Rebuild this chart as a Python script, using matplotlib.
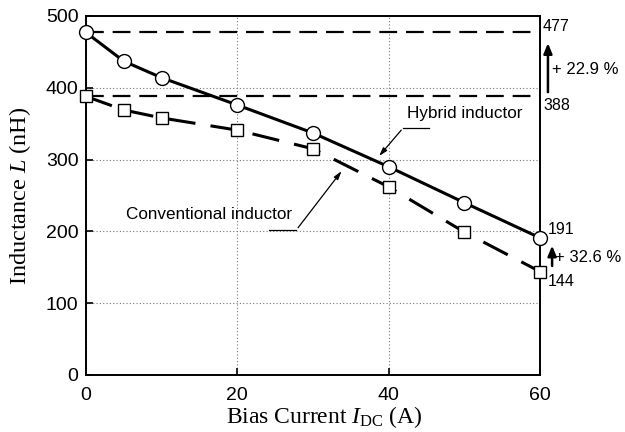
import matplotlib
matplotlib.use("Agg")
from matplotlib import pyplot as plt

plt.rcParams["font.family"] = ["Liberation Sans", "DejaVu Sans"]
plt.rcParams["mathtext.fontset"] = "custom"
plt.rcParams["mathtext.rm"] = "Liberation Serif"
plt.rcParams["mathtext.it"] = "Liberation Serif:italic"

current = [0, 5, 10, 20, 30, 40, 50, 60]
hybrid = [477, 437, 414, 376, 337, 290, 240, 191]
conventional = [388, 369, 358, 341, 315, 262, 199, 144]

x_ticks = [0, 20, 40, 60]
y_ticks = [0, 100, 200, 300, 400, 500]

fig = plt.figure(figsize=(6.25, 4.32), dpi=100)
ax = fig.add_axes([0.1376, 0.132, 0.7264, 0.831])

# reference levels at 0 A
ax.axhline(hybrid[0], color="black", lw=1.6, dashes=(8, 4), zorder=2)
ax.axhline(conventional[0], color="black", lw=1.6, dashes=(8, 4), zorder=2)

ax.plot(current, hybrid, "-", color="black", lw=2.2, marker="o", ms=10,
        mfc="white", mec="black", mew=1.0, zorder=4, clip_on=False)
ax.plot(current, conventional, color="black", lw=2.2, dashes=(9, 5), marker="s",
        ms=9, mfc="white", mec="black", mew=1.0, zorder=3, clip_on=False)

ax.set_xlim(0, 60)
ax.set_ylim(0, 500)
ax.set_xticks(x_ticks)
ax.set_yticks(y_ticks)
ax.tick_params(direction="in", length=5, width=1.2, labelsize=14)
ax.tick_params(axis="x", pad=8.5)
ax.tick_params(axis="y", pad=5.5)
ax.grid(True, linestyle=(0, (1, 2)), color="#777", lw=0.8)
for s in ax.spines.values():
    s.set_linewidth(1.4)

ax.set_xlabel(r"$\mathrm{Bias\ Current\ }\mathit{I}_{\mathrm{DC}}\mathrm{\ (A)}$", fontsize=17)
ax.set_ylabel(r"$\mathrm{Inductance\ }\mathit{L}\mathrm{\ (nH)}$", fontsize=17.5)
ax.xaxis.set_label_coords(0.524, -0.08)
ax.yaxis.set_label_coords(-0.117, 0.5)

# right side values and increase arrows
tkw = dict(fontsize=11.5, clip_on=False, va="center", ha="left")
pkw = dict(fontsize=12, clip_on=False, va="center", ha="left")
ax.text(60.4, 485, str(hybrid[0]), **tkw)
ax.text(60.4, 376, str(conventional[0]), **tkw)
ax.text(61.0, 202, str(hybrid[-1]), **tkw)
ax.text(61.0, 130, str(conventional[-1]), **tkw)
ax.text(61.6, 425, "+ 22.9 %", **pkw)
ax.text(62.0, 164, "+ 32.6 %", **pkw)
akw = dict(arrowstyle="-|>,head_length=0.6,head_width=0.25", lw=1.8, color="black")
ax.annotate("", xy=(61.05, 466), xytext=(61.05, 390), arrowprops=akw, annotation_clip=False)
ax.annotate("", xy=(61.6, 184), xytext=(61.6, 148), arrowprops=akw, annotation_clip=False)

# series labels with leader lines
lkw = dict(arrowstyle="-|>,head_length=0.5,head_width=0.15", lw=0.9, color="black")
ax.text(50.0, 364, "Hybrid inductor", fontsize=12.3, ha="center", va="center")
ax.plot([41.9, 45.3], [344, 344], color="black", lw=0.9)
ax.annotate("", xy=(38.5, 302), xytext=(41.9, 344), arrowprops=lkw)
ax.text(16.3, 223, "Conventional inductor", fontsize=12.3, ha="center", va="center")
ax.plot([24.2, 27.8], [202, 202], color="black", lw=0.9)
ax.annotate("", xy=(34.0, 287), xytext=(27.8, 202), arrowprops=lkw)

fig.savefig("out.png", dpi=100)
